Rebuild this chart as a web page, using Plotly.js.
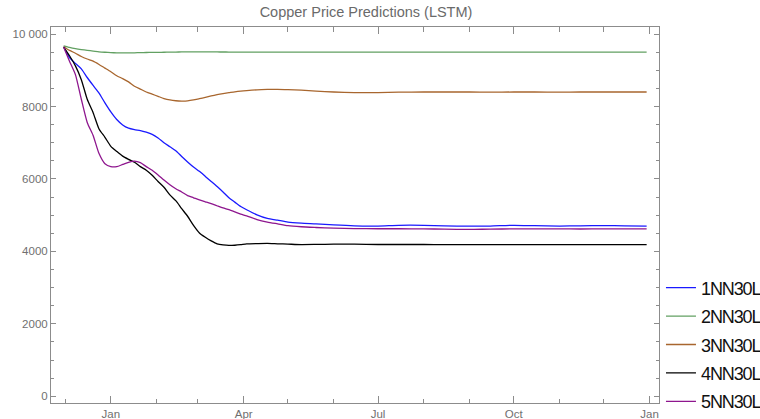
<!DOCTYPE html>
<html>
<head>
<meta charset="utf-8">
<script src="https://cdn.plot.ly/plotly-3.0.1.min.js"></script>
<style>
  html, body { margin: 0; padding: 0; background: #fff; }
  #chart { width: 760px; height: 419px; }
  #chart .legendtext { letter-spacing: -1.1px; }
</style>
</head>
<body>
<div id="chart"></div>
<script>
// Forecast dates (one row per sample)
const dates = ['2021-11-30','2021-12-04','2021-12-08','2021-12-12','2021-12-16','2021-12-20','2021-12-24','2021-12-28',
  '2022-01-01','2022-01-05','2022-01-09','2022-01-13','2022-01-17','2022-01-21','2022-01-25','2022-01-29',
  '2022-02-02','2022-02-06','2022-02-10','2022-02-14','2022-02-18','2022-02-22','2022-02-26',
  '2022-03-02','2022-03-06','2022-03-10','2022-03-14','2022-03-18','2022-03-22','2022-03-26','2022-03-30',
  '2022-04-03','2022-04-10','2022-04-17','2022-04-24','2022-05-01','2022-05-10','2022-05-20',
  '2022-06-01','2022-06-15','2022-07-01','2022-07-15','2022-08-01','2022-08-15','2022-09-01','2022-09-15',
  '2022-10-01','2022-10-15','2022-11-01','2022-11-15','2022-12-01','2022-12-15','2022-12-30'];

// Predicted copper price per model
const nn1 = [9650,9350,9190,9040,8800,8580,8370,8100,7850,7640,7490,7400,7360,7335,7290,7230,
  7130,7000,6890,6780,6620,6470,6330,6210,6070,5930,5790,5640,5480,5360,5240,
  5150,5010,4910,4860,4810,4780,4760,4730,4705,4700,4720,4720,4705,4695,4700,
  4720,4710,4700,4705,4712,4705,4695];
const nn2 = [9675,9630,9595,9570,9550,9530,9510,9497,9488,9480,9477,9478,9482,9486,9490,9493,
  9495,9497,9500,9503,9505,9507,9508,9508,9507,9506,9505,9504,9503,9502,9500,
  9500,9500,9500,9500,9500,9500,9500,9500,9500,9500,9500,9500,9500,9500,9500,
  9500,9500,9500,9500,9500,9500,9500];
const nn3 = [9650,9550,9470,9380,9310,9250,9160,9060,8960,8850,8770,8680,8560,8480,8400,8340,
  8280,8220,8180,8158,8150,8155,8180,8215,8250,8290,8325,8355,8380,8405,8425,
  8440,8460,8470,8473,8465,8450,8425,8400,8385,8385,8395,8400,8400,8400,8395,
  8400,8400,8395,8400,8400,8400,8400];
const nn4 = [9640,9400,9120,8740,8200,7830,7380,7150,6900,6760,6630,6540,6460,6340,6240,6100,
  5930,5770,5560,5400,5180,4970,4720,4510,4390,4290,4210,4180,4165,4170,4185,
  4205,4215,4222,4210,4200,4188,4192,4200,4200,4190,4190,4190,4188,4188,4188,
  4188,4188,4188,4188,4188,4188,4188];
const nn5 = [9640,9250,8880,8200,7560,7200,6700,6420,6340,6340,6400,6460,6490,6450,6340,6240,
  6110,5970,5840,5730,5640,5540,5480,5420,5370,5320,5260,5200,5150,5090,5030,
  4980,4880,4810,4760,4710,4680,4660,4640,4630,4625,4625,4620,4615,4605,4615,
  4620,4620,4620,4618,4620,4620,4620];

const seriesNames = ['1NN30L','2NN30L','3NN30L','4NN30L','5NN30L'];
const seriesValues = [nn1, nn2, nn3, nn4, nn5];
const seriesColors = ['#1a1aff','#62a062','#a8662e','#000000','#8e168e'];

const traces = seriesNames.map((name, i) => ({
  type: 'scatter',
  mode: 'lines',
  name: name,
  x: dates,
  y: seriesValues[i],
  legendgroup: 'g' + i,
  line: { color: seriesColors[i], width: 1.3, shape: 'spline', smoothing: 0.6 }
}));

const frameColor = '#8c8c8c';
const tickFont = { family: 'Liberation Sans, Arial, sans-serif', size: 11.5, color: '#707070' };

const layout = {
  width: 760,
  height: 419,
  margin: { l: 51, r: 101, t: 27, b: 16, pad: 0 },
  paper_bgcolor: '#ffffff',
  plot_bgcolor: '#ffffff',
  separators: '. ',
  title: {
    text: 'Copper Price Predictions (LSTM)',
    font: { family: 'Liberation Sans, Arial, sans-serif', size: 14.5, color: '#6a6a6a' },
    x: 0.4816, xref: 'container', xanchor: 'center',
    y: 0.972, yref: 'container', yanchor: 'middle'
  },
  xaxis: {
    type: 'date',
    range: ['2021-11-21 11:00', '2023-01-07 09:00'],
    tick0: '2022-01-01',
    dtick: 'M3',
    tickformat: '%b',
    ticks: 'inside',
    ticklen: 7,
    tickwidth: 1,
    tickcolor: frameColor,
    minor: { dtick: 'M1', tick0: '2021-12-01', ticks: 'inside', ticklen: 4.5, tickcolor: frameColor, showgrid: false },
    showline: true,
    linecolor: frameColor,
    linewidth: 1,
    mirror: 'allticks',
    showgrid: false,
    zeroline: false,
    automargin: false,
    tickfont: tickFont
  },
  yaxis: {
    range: [-185, 10194],
    tick0: 0,
    dtick: 2000,
    exponentformat: 'none',
    ticks: 'inside',
    ticklen: 5,
    tickwidth: 1,
    tickcolor: frameColor,
    minor: { dtick: 500, ticks: 'inside', ticklen: 3, tickcolor: frameColor, showgrid: false },
    showline: true,
    linecolor: frameColor,
    linewidth: 1,
    mirror: 'allticks',
    showgrid: false,
    zeroline: false,
    automargin: false,
    tickfont: tickFont
  },
  showlegend: true,
  legend: {
    x: 0.8697, xref: 'container', xanchor: 'left',
    y: 0.3568, yref: 'container', yanchor: 'top',
    bgcolor: 'rgba(0,0,0,0)',
    borderwidth: 0,
    tracegroupgap: 2,
    font: { family: 'Liberation Sans, Arial, sans-serif', size: 18, color: '#111111' }
  }
};

Plotly.newPlot('chart', traces, layout, { staticPlot: true, displayModeBar: false });
</script>
</body>
</html>
